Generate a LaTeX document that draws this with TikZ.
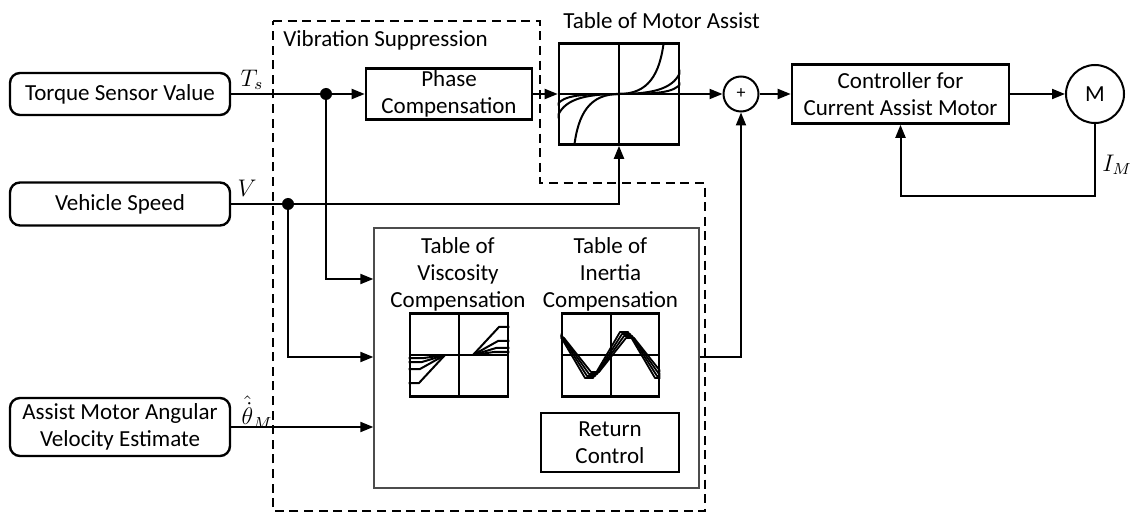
\documentclass[tikz,border=0pt]{standalone}
\usepackage{fontspec}
\setmainfont{Carlito}
\usetikzlibrary{arrows.meta,calc}
\begin{document}
\begin{tikzpicture}[x=0.5pt,y=-0.5pt,
  font=\fontsize{11.5}{13.5}\selectfont,
  wire/.style={line width=1pt},
  arr/.style={wire,-{Triangle[length=6.5pt,width=5pt]}},
  srcbox/.style={draw,line width=1.2pt,rounded corners=5pt,align=center,inner sep=0pt},
  blk/.style={draw,line width=1.3pt,align=center,inner sep=0pt},
  tbl/.style={draw,line width=1.3pt,inner sep=0pt},
  curve/.style={line width=1pt},
  groupbox/.style={draw=black!70,line width=0.65pt,inner sep=0pt},
  dashbox/.style={line width=1.2pt,dash pattern=on 4.5pt off 2.8pt},
  jdot/.style={fill=black},
  lbl/.style={inner sep=0pt}
]
\useasboundingbox (0,0) rectangle (1130,513);

% vibration suppression group outline
\draw[dashbox] (273,21) -- (540,21) -- (540,183) -- (705,183) -- (705,511) -- (273,511) -- cycle;
\node[lbl,anchor=west] (vslbl) at (283,40) {Vibration Suppression};

% signal sources
\node[srcbox,minimum width=110pt,minimum height=21pt] (ts) at (120,94) {Torque Sensor Value};
\node[srcbox,minimum width=110pt,minimum height=21.5pt] (vs) at (120,204) {Vehicle Speed};
\node[srcbox,minimum width=110pt,minimum height=29pt] (av) at (120,427) {Assist Motor Angular\\Velocity Estimate};

% main path blocks
\node[blk,minimum width=83pt,minimum height=25.5pt] (phase) at (449,94) {Phase\\Compensation};
\node[tbl,minimum width=60pt,minimum height=50.5pt] (mat) at (619,94) {};
\node[lbl,anchor=west] (matlbl) at (563,21) {Table of Motor Assist};
\node[draw,circle,line width=1pt,minimum size=17.5pt,inner sep=0pt] (sum) at (741,94) {\fontsize{9}{9}\selectfont +};
\node[blk,minimum width=108.5pt,minimum height=29.5pt] (ctrl) at (900.5,94) {Controller for\\Current Assist Motor};
\node[draw,circle,line width=1pt,minimum size=29pt,inner sep=0pt] (motor) at (1095,94) {M};

% motor assist characteristic
\draw[line width=1pt] (mat.north) -- (mat.south) (mat.west) -- (mat.east);
\begin{scope}
  \clip (mat.south west) rectangle (mat.north east);
  \draw[curve] (619,94) .. controls (648,94) and (660,75) .. (664,40);
  \draw[curve] (619,94) .. controls (655,94) and (675,88) .. (681,70);
  \draw[curve] (619,94) .. controls (655,94) and (675,93) .. (681,83);
  \draw[curve] (619,94) .. controls (590,94) and (578,113) .. (574,148);
  \draw[curve] (619,94) .. controls (583,94) and (563,100) .. (557,118);
  \draw[curve] (619,94) .. controls (583,94) and (563,95) .. (557,105);
\end{scope}

% compensation group
\node[groupbox,minimum width=162.5pt,minimum height=130pt] (big) at (536.5,358) {};
\node[lbl,align=center] (vtitle) at (458,274) {Table of\\Viscosity\\Compensation};
\node[lbl,align=center] (ititle) at (610.5,274) {Table of\\Inertia\\Compensation};
\node[tbl,minimum width=49pt,minimum height=41.5pt] (vt) at (459,355) {};
\node[tbl,minimum width=48.5pt,minimum height=41.5pt] (it) at (610.5,355) {};
\node[blk,minimum width=69pt,minimum height=29.5pt] (ret) at (610,442.5) {Return\\Control};

% viscosity characteristic
\draw[line width=1pt] (vt.north) -- (vt.south) (vt.west) -- (vt.east);
\begin{scope}
  \clip (vt.south west) rectangle (vt.north east);
  \draw[curve] (473,355) -- (499,327) -- (510,327);
  \draw[curve] (473,355) -- (498,341) -- (510,341);
  \draw[curve] (473,355) -- (496,348) -- (510,348);
  \draw[curve] (473,355) -- (494,352) -- (510,352);
  \draw[curve] (445,355) -- (419,383) -- (408,383);
  \draw[curve] (445,355) -- (420,369) -- (408,369);
  \draw[curve] (445,355) -- (422,362) -- (408,362);
  \draw[curve] (445,355) -- (424,358) -- (408,358);
\end{scope}

% inertia characteristic: a bundle of shifted triangular waves
\draw[line width=1pt] (it.north) -- (it.south) (it.west) -- (it.east);
\begin{scope}
  \clip (it.south west) rectangle (it.north east);
  \foreach \s/\a in {-3/23,-1/21,1/19,3/17}{
    \draw[line width=0.9pt,line join=round]
      (553+\s,355-\a) -- (561+\s,355-\a) -- (588+\s,355+\a) -- (596+\s,355+\a)
      -- (623+\s,355-\a) -- (631+\s,355-\a) -- (658+\s,355+\a) -- (668+\s,355+\a);
  }
\end{scope}

% junctions
\coordinate (tsdot) at (326,94);
\coordinate (vdot) at (288,204);
\coordinate (in1) at (0,279);
\coordinate (in2) at (0,357);
\coordinate (fb) at (0,196);

% connectors
\draw[wire] (ts.east) -- (tsdot);
\draw[arr] (tsdot) -- (phase.west);
\draw[arr] (phase.east) -- (mat.west);
\draw[arr] (mat.east) -- (sum.west);
\draw[arr] (sum.east) -- (ctrl.west);
\draw[arr] (ctrl.east) -- (motor.west);
\draw[arr] (motor.south) -- (motor.south |- fb) -| (ctrl.south);
\draw[arr] (vs.east) -| (mat.south);
\draw[arr] (tsdot) |- (big.west |- in1);
\draw[arr] (vdot) |- (big.west |- in2);
\draw[arr] (av.east) -- (big.west |- av.east);
\draw[arr] (big.east |- in2) -| (sum.south);
\fill[jdot] (tsdot) circle (3pt);
\fill[jdot] (vdot) circle (3pt);

% signal labels
\node[lbl] (tslbl) at (252,80) {$T_s$};
\node[lbl] (vlbl) at (247,188) {$V$};
\node[lbl] (thlbl) at (257,412) {$\hat{\dot{\theta}}_M$};
\node[lbl] (imlbl) at (1117,165) {$I_M$};
\end{tikzpicture}
\end{document}
